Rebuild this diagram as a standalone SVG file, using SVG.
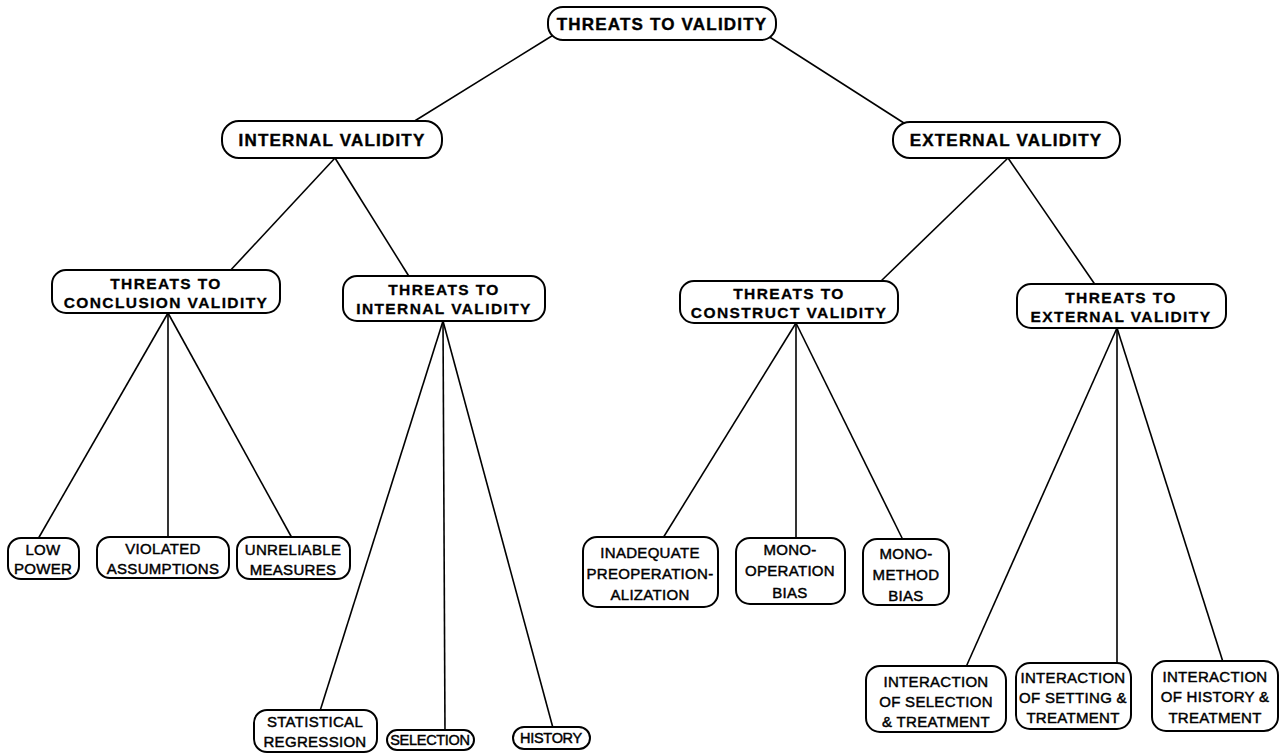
<svg xmlns="http://www.w3.org/2000/svg" width="1286" height="755" viewBox="0 0 1286 755">
<style>
.box{fill:#fff;stroke:#000;stroke-width:2}
.t1{font-family:"Liberation Sans",Arial,sans-serif;font-weight:bold;font-size:17px;letter-spacing:1.2px;text-anchor:middle;stroke:#000;stroke-width:0.4}
.t2{font-family:"Liberation Sans",Arial,sans-serif;font-weight:bold;font-size:15.5px;letter-spacing:1.4px;text-anchor:middle;stroke:#000;stroke-width:0.3}
.t3{font-family:"Liberation Sans",Arial,sans-serif;font-size:15px;letter-spacing:0.3px;text-anchor:middle;stroke:#000;stroke-width:0.45}
.sm{font-size:14.5px;letter-spacing:-0.3px}
.edge{stroke:#000;stroke-width:1.6;fill:none}
</style>
<rect width="1286" height="755" fill="#fff"/>
<g id="connectors">
<line class="edge" x1="555" y1="34" x2="413" y2="122"/>
<line class="edge" x1="768" y1="36" x2="907" y2="125"/>
<line class="edge" x1="335" y1="158" x2="228" y2="273"/>
<line class="edge" x1="335" y1="158" x2="410" y2="278"/>
<line class="edge" x1="1008" y1="158" x2="880" y2="282"/>
<line class="edge" x1="1008" y1="158" x2="1096" y2="286"/>
<line class="edge" x1="168" y1="313" x2="38" y2="539"/>
<line class="edge" x1="168" y1="313" x2="168" y2="538"/>
<line class="edge" x1="168" y1="313" x2="292" y2="538"/>
<line class="edge" x1="443" y1="321" x2="320" y2="711"/>
<line class="edge" x1="443" y1="321" x2="445" y2="731"/>
<line class="edge" x1="443" y1="321" x2="553" y2="728"/>
<line class="edge" x1="796" y1="323" x2="663" y2="538"/>
<line class="edge" x1="796" y1="323" x2="796" y2="538"/>
<line class="edge" x1="796" y1="323" x2="903" y2="540"/>
<line class="edge" x1="1117" y1="328" x2="966" y2="667"/>
<line class="edge" x1="1117" y1="328" x2="1117" y2="664"/>
<line class="edge" x1="1117" y1="328" x2="1223" y2="662"/>
</g>
<g id="n-top"><rect class="box" x="548" y="7" width="228" height="33" rx="15"/><text class="t1" x="662" y="30">THREATS TO VALIDITY</text></g>
<g id="n-internal"><rect class="box" x="222" y="121" width="220" height="37" rx="17"/><text class="t1" x="332" y="146">INTERNAL VALIDITY</text></g>
<g id="n-external"><rect class="box" x="893" y="122" width="227" height="36" rx="17"/><text class="t1" x="1006" y="146">EXTERNAL VALIDITY</text></g>
<g id="n-conclusion"><rect class="box" x="52" y="270" width="228" height="43" rx="14"/><text class="t2" x="166" y="289">THREATS TO</text><text class="t2" x="166" y="308">CONCLUSION VALIDITY</text></g>
<g id="n-tinternal"><rect class="box" x="343" y="276" width="202" height="45" rx="14"/><text class="t2" x="444" y="295">THREATS TO</text><text class="t2" x="444" y="314">INTERNAL VALIDITY</text></g>
<g id="n-construct"><rect class="box" x="680" y="281" width="218" height="42" rx="14"/><text class="t2" x="789" y="299">THREATS TO</text><text class="t2" x="789" y="318">CONSTRUCT VALIDITY</text></g>
<g id="n-texternal"><rect class="box" x="1017" y="284" width="209" height="44" rx="14"/><text class="t2" x="1121" y="303">THREATS TO</text><text class="t2" x="1121" y="322">EXTERNAL VALIDITY</text></g>
<g id="n-lowpower"><rect class="box" x="8" y="538" width="71" height="41" rx="13"/><text class="t3" x="43" y="555">LOW</text><text class="t3" x="43" y="574">POWER</text></g>
<g id="n-violated"><rect class="box" x="97" y="537" width="132" height="41" rx="13"/><text class="t3" x="163" y="554">VIOLATED</text><text class="t3" x="163" y="574">ASSUMPTIONS</text></g>
<g id="n-unreliable"><rect class="box" x="237" y="537" width="113" height="42" rx="13"/><text class="t3" x="293" y="555">UNRELIABLE</text><text class="t3" x="293" y="575">MEASURES</text></g>
<g id="n-inadequate"><rect class="box" x="583" y="537" width="135" height="70" rx="14"/><text class="t3" x="650" y="558">INADEQUATE</text><text class="t3" x="650" y="579">PREOPERATION-</text><text class="t3" x="650" y="600">ALIZATION</text></g>
<g id="n-monoop"><rect class="box" x="736" y="538" width="109" height="66" rx="14"/><text class="t3" x="790" y="555">MONO-</text><text class="t3" x="790" y="576">OPERATION</text><text class="t3" x="790" y="598">BIAS</text></g>
<g id="n-monometh"><rect class="box" x="863" y="539" width="86" height="66" rx="14"/><text class="t3" x="906" y="559">MONO-</text><text class="t3" x="906" y="580">METHOD</text><text class="t3" x="906" y="601">BIAS</text></g>
<g id="n-statreg"><rect class="box" x="254" y="710" width="123" height="42" rx="13"/><text class="t3" x="315" y="727">STATISTICAL</text><text class="t3" x="315" y="747">REGRESSION</text></g>
<g id="n-selection"><rect class="box" x="387" y="730" width="87" height="20" rx="10"/><text class="t3 sm" x="430" y="745">SELECTION</text></g>
<g id="n-history"><rect class="box" x="513" y="727" width="77" height="22" rx="11"/><text class="t3 sm" x="551" y="743">HISTORY</text></g>
<g id="n-intsel"><rect class="box" x="866" y="666" width="140" height="66" rx="14"/><text class="t3" x="936" y="687">INTERACTION</text><text class="t3" x="936" y="707">OF SELECTION</text><text class="t3" x="936" y="727">&amp; TREATMENT</text></g>
<g id="n-intset"><rect class="box" x="1016" y="663" width="115" height="66" rx="14"/><text class="t3" x="1073" y="683">INTERACTION</text><text class="t3" x="1073" y="703">OF SETTING &amp;</text><text class="t3" x="1073" y="723">TREATMENT</text></g>
<g id="n-inthist"><rect class="box" x="1152" y="661" width="126" height="70" rx="14"/><text class="t3" x="1215" y="682">INTERACTION</text><text class="t3" x="1215" y="702">OF HISTORY &amp;</text><text class="t3" x="1215" y="723">TREATMENT</text></g>
</svg>
